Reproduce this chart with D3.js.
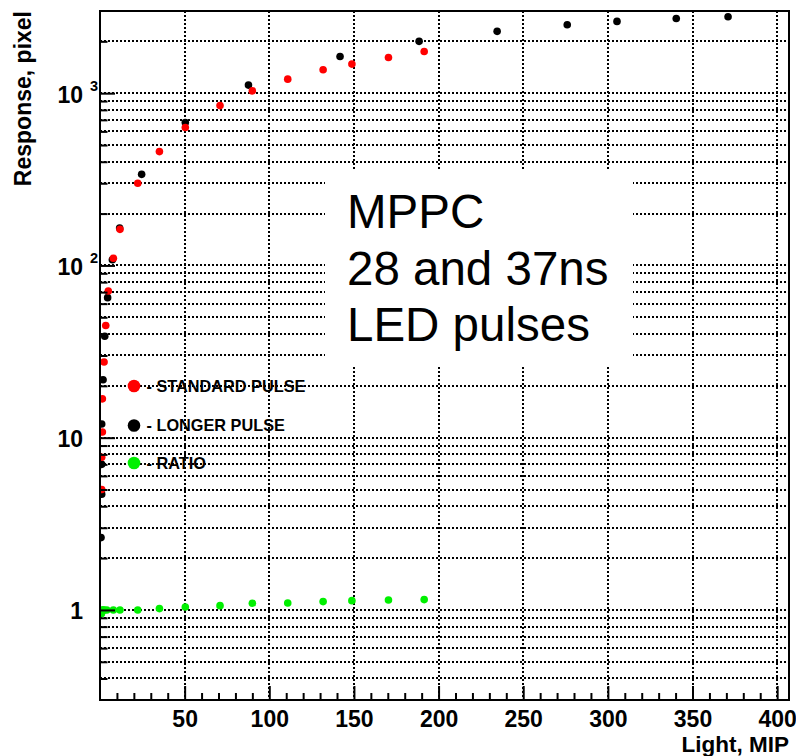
<!DOCTYPE html>
<html>
<head>
<meta charset="utf-8">
<script src="https://cdn.jsdelivr.net/npm/d3@7"></script>
<style>
  html, body { margin: 0; padding: 0; background: #fff; }
  svg { display: block; font-family: Arial, "Liberation Sans", Helvetica, sans-serif; }
</style>
</head>
<body>
<svg id="chart" width="796" height="756"></svg>
<script>
// MPPC response vs. light for standard and longer LED pulses, plus their ratio
const lightStd = [1.0, 1.0, 1.4, 1.4, 2.4, 3.4, 4.9, 7.9, 11.8, 22.3, 35.1, 50.4, 70.9, 90.0, 110.9, 131.8, 148.8, 170.4, 191.5];
const respStd  = [5.0, 7.7, 10.8, 16.8, 27.5, 44.8, 71, 110, 162, 300, 458, 632, 847, 1031, 1206, 1367, 1475, 1611, 1746];

const lightLong = [0.6, 1.0, 1.0, 1.0, 1.8, 2.8, 4.5, 7.3, 11.6, 24.6, 50.4, 87.7, 141.8, 188.5, 234.6, 276.0, 305.4, 340.4, 371.0];
const respLong  = [2.63, 4.7, 7.0, 12.0, 21.7, 38.8, 65, 108, 165, 338, 676, 1114, 1634, 1999, 2285, 2495, 2610, 2716, 2779];

const lightRatio = [0.8, 1.0, 1.2, 1.4, 1.8, 2.4, 4.0, 7.9, 11.8, 22.3, 35.1, 50.4, 70.9, 90.0, 110.9, 131.8, 148.8, 170.4, 191.5];
const ratio      = [0.95, 0.97, 0.99, 1.0, 1.0, 1.0, 1.0, 1.0, 1.0, 1.0, 1.018, 1.04, 1.059, 1.094, 1.098, 1.118, 1.132, 1.143, 1.148];

const xMajorTicks = [50, 100, 150, 200, 250, 300, 350, 400];
const yMajorTicks = [1, 10, 100, 1000];
const yTickBase   = ["1", "10", "10", "10"];
const yTickExp    = ["", "", "2", "3"];

const legendLabels = ["- STANDARD PULSE", "- LONGER PULSE", "- RATIO"];
const noteLines = ["MPPC", "28 and 37ns", "LED pulses"];
const xTitle = "Light, MIP";
const yTitle = "Response, pixel";

const colStd = "#ff0000", colLong = "#000000", colRatio = "#00f000";

const svg = d3.select("#chart");
const L = 100, R = 789, T = 11, B = 700;

const x = d3.scaleLinear().domain([0, 407]).range([L, R]);
const y = d3.scaleLog().domain([0.3, 3000]).range([B, T]);

// minor ticks: every 10 MIP, and 2..9 within each decade
const xMinor = d3.range(10, 407, 10).filter(v => v % 50 !== 0);
const yAll = [];
[0.1, 1, 10, 100, 1000].forEach(d => { for (let k = 1; k <= 9; k++) { const v = +(k * d).toPrecision(3); if (v > 0.3 && v < 3000) yAll.push(v); } });
const yMinor = yAll.filter(v => !yMajorTicks.includes(v));

// dotted grid
const grid = svg.append("g").attr("stroke", "#000").attr("stroke-width", 2)
  .attr("stroke-dasharray", "2,2").attr("shape-rendering", "crispEdges");
grid.selectAll("line.h").data(yAll).join("line").attr("class", "h")
  .attr("x1", L).attr("x2", R).attr("y1", d => Math.round(y(d))).attr("y2", d => Math.round(y(d)));
grid.selectAll("line.v").data(xMajorTicks).join("line").attr("class", "v")
  .attr("y1", T).attr("y2", B).attr("x1", d => Math.round(x(d))).attr("x2", d => Math.round(x(d)));

// annotation pave
svg.append("rect").attr("x", 325).attr("y", 170).attr("width", 308).attr("height", 195).attr("fill", "#fff");
svg.append("g").selectAll("text").data(noteLines).join("text")
  .attr("x", 347).attr("y", (d, i) => 228 + i * 56.5)
  .attr("font-size", 47.5).attr("fill", "#000").text(d => d);

// data points, clipped to the frame
svg.append("clipPath").attr("id", "frame").append("rect")
  .attr("x", L).attr("y", T).attr("width", R - L).attr("height", B - T);
const pts = svg.append("g").attr("clip-path", "url(#frame)");
function series(xs, ys, col) {
  pts.append("g").selectAll("circle").data(xs.map((v, i) => [v, ys[i]])).join("circle")
    .attr("cx", d => x(d[0])).attr("cy", d => y(d[1])).attr("r", 3.8).attr("fill", col);
}
series(lightLong, respLong, colLong);
series(lightStd, respStd, colStd);
series(lightRatio, ratio, colRatio);

// legend
const leg = svg.append("g").selectAll("g").data(legendLabels).join("g")
  .attr("transform", (d, i) => `translate(134,${[386, 425.5, 463][i]})`);
leg.append("circle").attr("r", 6.3).attr("fill", (d, i) => [colStd, colLong, colRatio][i]);
leg.append("text").attr("x", 12.5).attr("y", 5.8).attr("font-size", 16.3).attr("font-weight", "bold").text(d => d);

// axes with inward ticks
svg.append("g").attr("transform", `translate(0,${B})`)
  .call(d3.axisBottom(x).tickValues(xMajorTicks).tickSizeInner(-14).tickSizeOuter(0).tickPadding(11).tickFormat(d3.format("d")));
svg.append("g").attr("transform", `translate(0,${B})`)
  .call(d3.axisBottom(x).tickValues(xMinor).tickSizeInner(-7).tickSizeOuter(0).tickFormat(""));
const yAxis = svg.append("g").attr("transform", `translate(${L},0)`)
  .call(d3.axisLeft(y).tickValues(yMajorTicks).tickSizeInner(-15).tickSizeOuter(0).tickPadding(17).tickFormat((d, i) => yTickBase[i]));
svg.append("g").attr("transform", `translate(${L},0)`)
  .call(d3.axisLeft(y).tickValues(yMinor).tickSizeInner(-7.5).tickSizeOuter(0).tickFormat(""));

svg.selectAll(".domain").remove();
svg.selectAll(".tick line").attr("stroke", "#000").attr("stroke-width", 2);
svg.selectAll(".tick text").attr("font-size", 23).attr("font-weight", "bold").attr("font-family", "Arial, 'Liberation Sans', sans-serif").attr("fill", "#000");
yAxis.selectAll(".tick text").attr("dy", "0.39em");

// exponents on the decade labels
svg.append("g").selectAll("text").data(yMajorTicks.filter((d, i) => yTickExp[i]))
  .join("text")
  .attr("x", 90).attr("y", d => y(d) - 2.5)
  .attr("font-size", 14.5).attr("font-weight", "bold")
  .text(d => yTickExp[yMajorTicks.indexOf(d)]);

// frame
svg.append("rect").attr("x", L).attr("y", T).attr("width", R - L).attr("height", B - T)
  .attr("fill", "none").attr("stroke", "#000").attr("stroke-width", 2);

// titles
svg.append("text").attr("x", R).attr("y", 752).attr("text-anchor", "end")
  .attr("font-size", 22.5).attr("font-weight", "bold").text(xTitle);
svg.append("text").attr("transform", `translate(31,${T}) rotate(-90)`).attr("text-anchor", "end")
  .attr("font-size", 23).attr("font-weight", "bold").text(yTitle);
</script>
</body>
</html>
